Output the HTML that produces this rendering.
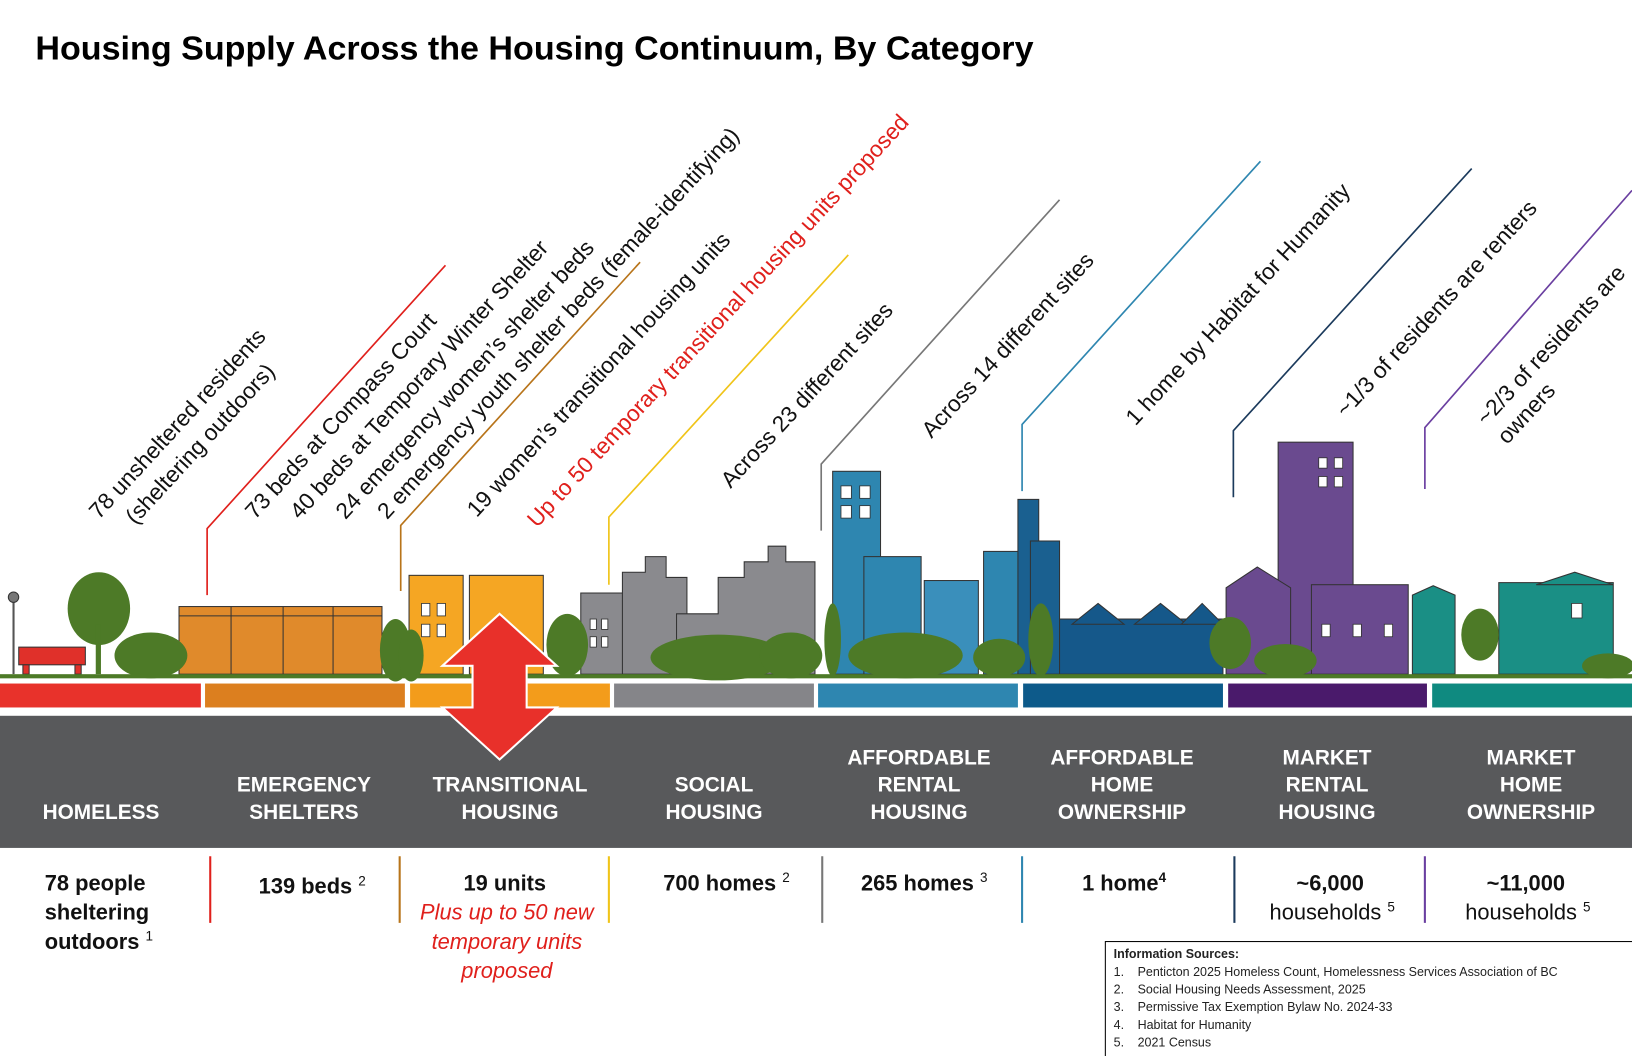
<!DOCTYPE html>
<html><head><meta charset="utf-8"><style>
html,body{margin:0;padding:0;background:#fff}
svg{display:block}
text{font-family:"Liberation Sans",sans-serif}
.cat{font-family:"Liberation Sans Narrow","Liberation Sans",sans-serif;font-weight:bold;font-size:20px;fill:#fff;text-anchor:middle}
.ann{font-size:21.8px;fill:#111}
.val{font-size:21px;font-weight:bold;fill:#111;text-anchor:middle}
.src{font-size:12px;fill:#222}
</style></head><body>
<svg width="1632" height="1056" viewBox="0 0 1568 1015" preserveAspectRatio="none">
<text x="34" y="57" font-size="32" font-weight="bold" fill="#000" textLength="959" lengthAdjust="spacingAndGlyphs">Housing Supply Across the Housing Continuum, By Category</text>

<g fill="none" stroke-width="1.6">
<polyline points="199,572 199,508 428,255" stroke="#e0201c"/>
<polyline points="385,568 385,505 615,252" stroke="#b8741a"/>
<polyline points="585,562 585,497 815,245" stroke="#f0c419"/>
<polyline points="789,510 789,446 1018,192" stroke="#777"/>
<polyline points="982,472 982,408 1211,155" stroke="#2e86b0"/>
<polyline points="1185,478 1185,414 1414,162" stroke="#1b3a5c"/>
<polyline points="1369,470 1369,411 1568,183" stroke="#6a3fa0"/>
</g>

<g class="ann">
<text transform="translate(95,500) rotate(-47.4)">78 unsheltered residents</text>
<text transform="translate(130,505) rotate(-47.4)">(sheltering outdoors)</text>
<text transform="translate(245,500) rotate(-47.4)">73 beds at Compass Court</text>
<text transform="translate(288,500) rotate(-47.4)">40 beds at Temporary Winter Shelter</text>
<text transform="translate(332,500) rotate(-47.4)">24 emergency women’s shelter beds</text>
<text transform="translate(372,500) rotate(-47.4)">2 emergency youth shelter beds (female-identifying)</text>
<text transform="translate(458,498) rotate(-47.4)">19 women’s transitional housing units</text>
<text transform="translate(516,508) rotate(-47.4)" fill="#e0201c">Up to 50 temporary transitional housing units proposed</text>
<text transform="translate(702,470) rotate(-47.4)">Across 23 different sites</text>
<text transform="translate(895,422) rotate(-47.4)">Across 14 different sites</text>
<text transform="translate(1091,410) rotate(-47.4)">1 home by Habitat for Humanity</text>
<text transform="translate(1293,402) rotate(-47.4)">~1/3 of residents are renters</text>
<text transform="translate(1428,410) rotate(-47.4)">~2/3 of residents are</text>
<text transform="translate(1448,428) rotate(-47.4)">owners</text>
</g>

<g stroke="#333" stroke-width="1">
<line x1="13" y1="572" x2="13" y2="648" stroke="#555" stroke-width="2"/>
<circle cx="13" cy="574" r="5" fill="#777"/>
<rect x="18" y="622" width="64" height="17" fill="#e0302a"/>
<rect x="22" y="639" width="6" height="9" fill="#e0302a"/><rect x="72" y="639" width="6" height="9" fill="#e0302a"/>
<rect x="172" y="583" width="195" height="65" fill="#e08a2b"/>
<line x1="172" y1="592" x2="367" y2="592"/><line x1="222" y1="583" x2="222" y2="648"/><line x1="272" y1="583" x2="272" y2="648"/><line x1="320" y1="583" x2="320" y2="648"/>
<rect x="393" y="553" width="52" height="95" fill="#f5a623"/>
<rect x="451" y="553" width="71" height="95" fill="#f5a623"/>
<rect x="558" y="570" width="42" height="78" fill="#8a8a8e"/>
<polygon points="598,648 598,550 620,550 620,535 640,535 640,555 660,555 660,648" fill="#8a8a8e"/>
<polygon points="650,648 650,590 690,590 690,555 715,555 715,540 738,540 738,525 755,525 755,540 783,540 783,648" fill="#8a8a8e"/>
<rect x="800" y="453" width="46" height="195" fill="#2e86b0"/>
<rect x="830" y="535" width="55" height="113" fill="#2e86b0"/>
<rect x="888" y="558" width="52" height="90" fill="#3a8fbb"/>
<rect x="945" y="530" width="35" height="118" fill="#2e86b0"/>
<rect x="978" y="480" width="20" height="168" fill="#1a6090"/>
<rect x="990" y="520" width="28" height="128" fill="#1a6090"/>
<rect x="1018" y="595" width="157" height="53" fill="#15588a"/>
<polygon points="1030,600 1055,580 1080,600" fill="#15588a"/><polygon points="1090,600 1115,580 1140,600" fill="#15588a"/><polygon points="1135,600 1155,580 1175,600" fill="#15588a"/>
<rect x="1228" y="425" width="72" height="223" fill="#6a4a8f"/>
<polygon points="1178,648 1178,565 1208,545 1240,565 1240,648" fill="#6a4a8f"/>
<rect x="1260" y="562" width="93" height="86" fill="#6a4a8f"/>
<polygon points="1357,648 1357,572 1377,563 1398,572 1398,648" fill="#1a8f85"/>
<rect x="1440" y="560" width="110" height="88" fill="#1a8f85"/>
<polygon points="1476,562 1513,550 1550,562" fill="#1a8f85"/>
</g>
<g fill="#fff" stroke="#333" stroke-width="0.8">
<rect x="808" y="467" width="10" height="12"/><rect x="826" y="467" width="10" height="12"/><rect x="808" y="486" width="10" height="12"/><rect x="826" y="486" width="10" height="12"/>
<rect x="405" y="580" width="8" height="12"/><rect x="420" y="580" width="8" height="12"/><rect x="405" y="600" width="8" height="12"/><rect x="420" y="600" width="8" height="12"/>
<rect x="567" y="595" width="6" height="10"/><rect x="578" y="595" width="6" height="10"/><rect x="567" y="612" width="6" height="10"/><rect x="578" y="612" width="6" height="10"/>
<rect x="1267" y="440" width="8" height="10"/><rect x="1282" y="440" width="8" height="10"/><rect x="1267" y="458" width="8" height="10"/><rect x="1282" y="458" width="8" height="10"/>
<rect x="1270" y="600" width="8" height="12"/><rect x="1300" y="600" width="8" height="12"/><rect x="1330" y="600" width="8" height="12"/>
<rect x="1510" y="580" width="10" height="14"/>
</g>
<g fill="#4d7a27">
<ellipse cx="95" cy="585" rx="30" ry="35"/><rect x="92" y="600" width="5" height="48"/>
<ellipse cx="145" cy="630" rx="35" ry="22"/>
<ellipse cx="380" cy="625" rx="15" ry="30"/><ellipse cx="395" cy="630" rx="12" ry="25"/>
<ellipse cx="545" cy="620" rx="20" ry="30"/>
<ellipse cx="690" cy="632" rx="65" ry="22"/><ellipse cx="760" cy="630" rx="30" ry="22"/>
<ellipse cx="800" cy="615" rx="8" ry="35"/><ellipse cx="870" cy="630" rx="55" ry="22"/>
<ellipse cx="960" cy="632" rx="25" ry="18"/><ellipse cx="1000" cy="615" rx="12" ry="35"/>
<ellipse cx="1182" cy="618" rx="20" ry="25"/><ellipse cx="1235" cy="635" rx="30" ry="16"/>
<ellipse cx="1422" cy="610" rx="18" ry="25"/><ellipse cx="1545" cy="640" rx="25" ry="12"/>
</g>
<rect x="0" y="648" width="1568" height="4" fill="#4d7a27"/>

<g>
<rect x="0" y="657" width="193" height="23" fill="#e8322b"/>
<rect x="197" y="657" width="192" height="23" fill="#dc7f1f"/>
<rect x="394" y="657" width="192" height="23" fill="#f39c1b"/>
<rect x="590" y="657" width="192" height="23" fill="#858589"/>
<rect x="786" y="657" width="192" height="23" fill="#2e86b0"/>
<rect x="983" y="657" width="192" height="23" fill="#0d5a8a"/>
<rect x="1180" y="657" width="191" height="23" fill="#4a1a6b"/>
<rect x="1376" y="657" width="192" height="23" fill="#0f8a80"/>
</g>
<rect x="0" y="688" width="1568" height="127" fill="#58595b"/>
<g class="cat">
<text x="97" y="787">HOMELESS</text>
<text x="292" y="761">EMERGENCY</text><text x="292" y="787">SHELTERS</text>
<text x="490" y="761">TRANSITIONAL</text><text x="490" y="787">HOUSING</text>
<text x="686" y="761">SOCIAL</text><text x="686" y="787">HOUSING</text>
<text x="883" y="735">AFFORDABLE</text><text x="883" y="761">RENTAL</text><text x="883" y="787">HOUSING</text>
<text x="1078" y="735">AFFORDABLE</text><text x="1078" y="761">HOME</text><text x="1078" y="787">OWNERSHIP</text>
<text x="1275" y="735">MARKET</text><text x="1275" y="761">RENTAL</text><text x="1275" y="787">HOUSING</text>
<text x="1471" y="735">MARKET</text><text x="1471" y="761">HOME</text><text x="1471" y="787">OWNERSHIP</text>
</g>
<polygon points="480,590 535,640 506,640 506,680 535,680 480,730 425,680 454,680 454,640 425,640" fill="#e8302a" stroke="#fff" stroke-width="2"/>

<g stroke-width="2">
<line x1="202" y1="823" x2="202" y2="887" stroke="#e0201c"/>
<line x1="384" y1="823" x2="384" y2="887" stroke="#b8741a"/>
<line x1="585" y1="823" x2="585" y2="887" stroke="#f0c419"/>
<line x1="790" y1="823" x2="790" y2="887" stroke="#777"/>
<line x1="982" y1="823" x2="982" y2="887" stroke="#2e86b0"/>
<line x1="1186" y1="823" x2="1186" y2="887" stroke="#1b3a5c"/>
<line x1="1369" y1="823" x2="1369" y2="887" stroke="#6a3fa0"/>
</g>
<g class="val">
<text x="43" y="856" text-anchor="start">78 people</text>
<text x="43" y="884" text-anchor="start">sheltering</text>
<text x="43" y="912" text-anchor="start">outdoors <tspan font-size="13" font-weight="normal" dy="-8">1</tspan></text>
<text x="300" y="859">139 beds <tspan font-size="13" font-weight="normal" dy="-8">2</tspan></text>
<text x="485" y="856">19 units</text>
<text x="487" y="884" fill="#e0201c" font-weight="normal" font-style="italic">Plus up to 50 new</text>
<text x="487" y="912" fill="#e0201c" font-weight="normal" font-style="italic">temporary units</text>
<text x="487" y="940" fill="#e0201c" font-weight="normal" font-style="italic">proposed</text>
<text x="698" y="856">700 homes <tspan font-size="13" font-weight="normal" dy="-8">2</tspan></text>
<text x="888" y="856">265 homes <tspan font-size="13" font-weight="normal" dy="-8">3</tspan></text>
<text x="1080" y="856">1 home<tspan font-size="13" dy="-8">4</tspan></text>
<text x="1278" y="856">~6,000</text>
<text x="1280" y="884" font-weight="normal">households <tspan font-size="13" dy="-8">5</tspan></text>
<text x="1466" y="856">~11,000</text>
<text x="1468" y="884" font-weight="normal">households <tspan font-size="13" dy="-8">5</tspan></text>
</g>

<g>
<rect x="1062" y="905" width="510" height="114" fill="#fff" stroke="#000" stroke-width="1"/>
<text class="src" x="1070" y="921" font-weight="bold">Information Sources:</text>
<text class="src" x="1070" y="938">1.</text><text class="src" x="1093" y="938">Penticton 2025 Homeless Count, Homelessness Services Association of BC</text>
<text class="src" x="1070" y="955">2.</text><text class="src" x="1093" y="955">Social Housing Needs Assessment, 2025</text>
<text class="src" x="1070" y="972">3.</text><text class="src" x="1093" y="972">Permissive Tax Exemption Bylaw No. 2024-33</text>
<text class="src" x="1070" y="989">4.</text><text class="src" x="1093" y="989">Habitat for Humanity</text>
<text class="src" x="1070" y="1006">5.</text><text class="src" x="1093" y="1006">2021 Census</text>
</g>
</svg>
</body></html>
